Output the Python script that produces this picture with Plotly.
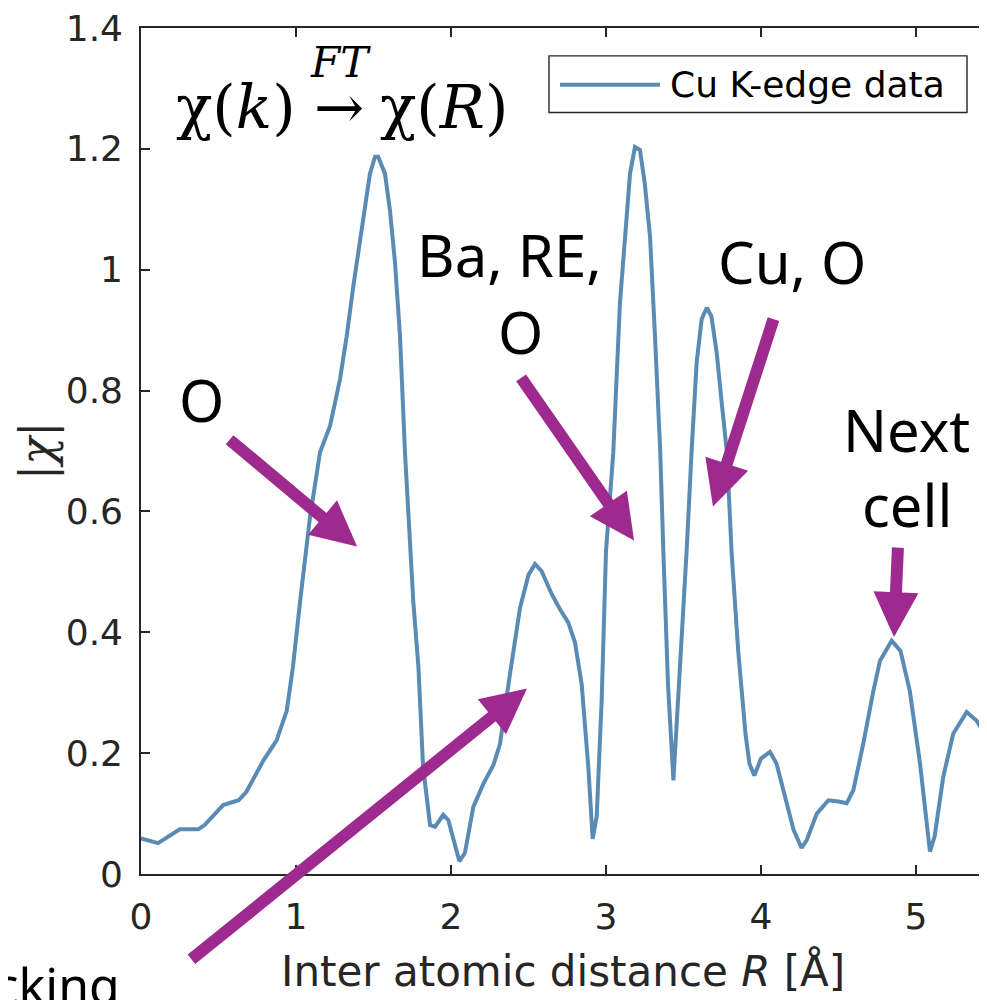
import plotly.graph_objects as go

# ---- data: |chi(R)| ----
R = [0.00, 0.11, 0.25, 0.37, 0.41, 0.53, 0.63, 0.68, 0.79, 0.875, 0.94, 0.98, 1.026,
     1.09, 1.155, 1.22, 1.284, 1.327, 1.37, 1.435, 1.477, 1.51, 1.53, 1.574, 1.606,
     1.639, 1.671, 1.703, 1.757, 1.79, 1.82, 1.865, 1.897, 1.95, 1.983, 2.054, 2.09,
     2.144, 2.21, 2.273, 2.316, 2.38, 2.445, 2.50, 2.542, 2.585, 2.65, 2.703, 2.757,
     2.80, 2.843, 2.886, 2.914, 2.94, 2.972, 3.00, 3.047, 3.09, 3.13, 3.155, 3.187,
     3.219, 3.25, 3.284, 3.316, 3.35, 3.37, 3.40, 3.435, 3.466, 3.50, 3.52, 3.552,
     3.585, 3.617, 3.65, 3.68, 3.714, 3.746, 3.78, 3.81, 3.853, 3.90, 3.925, 3.957,
     4.00, 4.058, 4.10, 4.144, 4.21, 4.262, 4.295, 4.36, 4.435, 4.50, 4.553, 4.596,
     4.66, 4.725, 4.768, 4.843, 4.90, 4.96, 5.026, 5.09, 5.12, 5.176, 5.24, 5.327,
     5.39, 5.455, 5.50]
chi = [0.059, 0.051, 0.074, 0.074, 0.081, 0.114, 0.122, 0.136, 0.188, 0.221, 0.270, 0.342, 0.450,
       0.590, 0.698, 0.742, 0.819, 0.890, 0.973, 1.093, 1.159, 1.187, 1.187, 1.159, 1.099,
       1.011, 0.890, 0.698, 0.450, 0.342, 0.177, 0.081, 0.078, 0.098, 0.089, 0.021, 0.035,
       0.111, 0.150, 0.180, 0.215, 0.330, 0.440, 0.495, 0.513, 0.501, 0.463, 0.438, 0.416,
       0.383, 0.314, 0.177, 0.058, 0.095, 0.287, 0.534, 0.698, 0.945, 1.088, 1.159, 1.203,
       1.198, 1.143, 1.055, 0.890, 0.698, 0.534, 0.314, 0.155, 0.287, 0.452, 0.534, 0.698,
       0.847, 0.918, 0.937, 0.923, 0.863, 0.781, 0.698, 0.534, 0.369, 0.232, 0.183, 0.163,
       0.191, 0.202, 0.183, 0.139, 0.073, 0.043, 0.056, 0.100, 0.122, 0.120, 0.117, 0.139,
       0.216, 0.303, 0.353, 0.386, 0.369, 0.303, 0.183, 0.037, 0.062, 0.161, 0.232, 0.268,
       0.254, 0.227, 0.210]

x_ticks = [0, 1, 2, 3, 4, 5]
y_ticks = [0, 0.2, 0.4, 0.6, 0.8, 1.0, 1.2, 1.4]
legend_label = "Cu K-edge data"

# labels: (text, x, y) in data coordinates
labels = [
    ("O", 0.39, 0.785),
    ("Ba, RE,", 2.38, 1.025),
    ("O", 2.45, 0.898),
    ("Cu, O", 4.20, 1.013),
    ("Next", 4.94, 0.735),
    ("cell", 4.94, 0.612),
]
# arrows: (tip x, tip y, tail dx px, tail dy px)
arrows = [
    (1.394, 0.542, -129, -108),
    (3.181, 0.552, -114, -164),
    (3.690, 0.608, 61, -189),
    (4.858, 0.392, 4, -91),
    (2.490, 0.307, -337, 272),
]

# ---- layout geometry (page has an 8px body margin) ----
OFF = 8
W, H = 987 - OFF, 1000 - OFF
L = 141 - OFF
T = 23 - OFF
BOT = 874.3 - OFF
B = H - BOT
PW = W - L
PH = BOT - T
XMAX = PW / 155.0

AX = "#262626"
BLUE = "#5A8BB5"
PURP = "#9E2A90"
TICKFONT = dict(family="DejaVu Sans", size=36, color=AX)


def px(xp, yp):
    """page pixel -> paper coords"""
    return (xp - OFF - L) / PW, (BOT - (yp - OFF)) / PH


fig = go.Figure()
fig.add_trace(go.Scatter(x=R, y=chi, mode="lines", name=legend_label,
                         line=dict(color=BLUE, width=4), showlegend=False,
                         hoverinfo="x+y"))

fig.update_layout(
    width=W, height=H,
    margin=dict(l=L, r=0, t=T, b=B),
    paper_bgcolor="white", plot_bgcolor="white",
    showlegend=False,
    xaxis=dict(range=[0, XMAX], tickvals=x_ticks, ticks="inside", ticklen=9,
               tickwidth=1.6, tickcolor=AX, showline=True, linecolor=AX,
               linewidth=1.6, mirror="ticks", showgrid=False, zeroline=False,
               tickfont=TICKFONT, ticklabelstandoff=10,
               ticklabeloverflow="allow"),
    yaxis=dict(range=[0, 1.4], tickvals=y_ticks, ticks="inside", ticklen=9,
               tickwidth=1.6, tickcolor=AX, showline=True, linecolor=AX,
               linewidth=1.6, mirror=False, showgrid=False, zeroline=False,
               tickfont=TICKFONT, ticklabelstandoff=9,
               ticklabeloverflow="allow"),
    yaxis2=dict(range=[0, 1.4], tickvals=y_ticks, ticks="inside", ticklen=9,
                tickwidth=1.6, tickcolor=AX, showline=False, overlaying="y",
                side="right", showticklabels=False, showgrid=False,
                zeroline=False),
)

ann = []
# axis titles
xt, yt = px(563, 972)
ann.append(dict(xref="paper", yref="paper", x=xt, y=yt, xanchor="center",
                yanchor="middle", showarrow=False,
                text="Inter atomic distance <i>R</i> [Å]",
                font=dict(family="DejaVu Sans", size=42, color=AX)))
xt, yt = px(37, 449)
ann.append(dict(xref="paper", yref="paper", x=xt, y=yt, xanchor="center",
                yanchor="middle", showarrow=False, textangle=-90,
                text="|<i>χ</i>|",
                font=dict(family="DejaVu Serif", size=46, color=AX)))

# formula
FF = dict(family="DejaVu Serif", size=60, color="black")
xt, yt = px(298, 102)
ann.append(dict(xref="paper", yref="paper", x=xt, y=yt, xanchor="right",
                yanchor="middle", showarrow=False, text="χ(<i>k</i>)", font=FF))
xt, yt = px(339, 102)
ann.append(dict(xref="paper", yref="paper", x=xt, y=yt, xanchor="center",
                yanchor="middle", showarrow=False, text="→", font=FF))
xt, yt = px(378, 102)
ann.append(dict(xref="paper", yref="paper", x=xt, y=yt, xanchor="left",
                yanchor="middle", showarrow=False, text="χ(<i>R</i>)", font=FF))
xt, yt = px(340, 58)
ann.append(dict(xref="paper", yref="paper", x=xt, y=yt, xanchor="center",
                yanchor="middle", showarrow=False, text="<i>FT</i>",
                font=dict(family="DejaVu Serif", size=42, color="black")))

# labels
LF = dict(family="Noto Sans", size=58, color="black")
for t, lx, ly in labels:
    ann.append(dict(xref="x", yref="y", x=lx, y=ly, xanchor="center",
                    yanchor="middle", showarrow=False, text=t, font=LF))
xt, yt = px(122, 986)
ann.append(dict(xref="paper", yref="paper", x=xt, y=yt, xanchor="right",
                yanchor="middle", showarrow=False, text="Stacking",
                font=dict(family="Noto Sans", size=50, color="black")))

# arrows
for tx, ty, dx, dy in arrows:
    ann.append(dict(xref="x", yref="y", x=tx, y=ty, ax=dx, ay=dy, text="",
                    showarrow=True, arrowhead=2, arrowsize=0.75, arrowwidth=12,
                    arrowcolor=PURP, standoff=0))

# legend (custom box)
x0, y1 = px(549, 51)
x1, y0 = px(967, 108)
lx0, ly = px(560, 80)
lx1, _ = px(660, 80)
shapes = [
    dict(type="rect", xref="paper", yref="paper", x0=x0, x1=x1, y0=y0, y1=y1,
         line=dict(color=AX, width=1.4), fillcolor="white", layer="above"),
    dict(type="line", xref="paper", yref="paper", x0=lx0, x1=lx1, y0=ly, y1=ly,
         line=dict(color=BLUE, width=4), layer="above"),
]
xt, yt = px(668, 80)
ann.append(dict(xref="paper", yref="paper", x=xt, y=yt, xanchor="left",
                yanchor="middle", showarrow=False, text=legend_label,
                font=dict(family="DejaVu Sans", size=36, color="black")))

fig.update_layout(annotations=ann, shapes=shapes)
fig.write_html("out.html")
